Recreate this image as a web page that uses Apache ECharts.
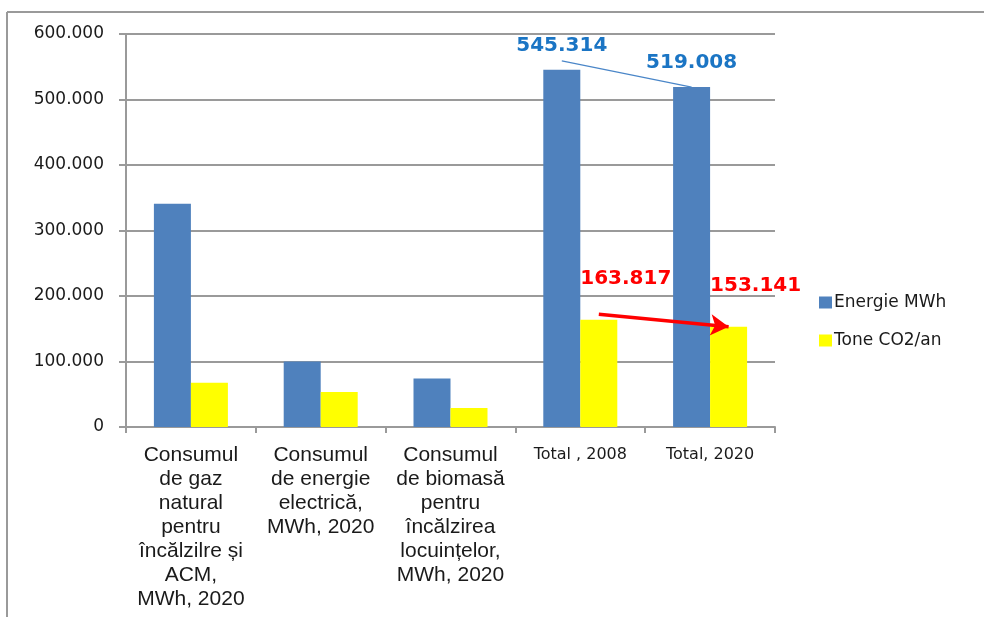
<!DOCTYPE html>
<html>
<head>
<meta charset="utf-8">
<script src="https://cdn.jsdelivr.net/npm/echarts@6/dist/echarts.min.js"></script>
<style>
  html, body { margin: 0; padding: 0; background: #fff; }
  #chart { width: 984px; height: 617px; }
</style>
</head>
<body>
<div id="chart"></div>
<script>
// date
const categories = [
  'Consumul\nde gaz\nnatural\npentru\nîncălzilre și\nACM,\nMWh, 2020',
  'Consumul\nde energie\nelectrică,\nMWh, 2020',
  'Consumul\nde biomasă\npentru\nîncălzirea\nlocuințelor,\nMWh, 2020',
  'Total , 2008',
  'Total, 2020'
];
const energie = [341000, 100000, 74000, 545314, 519008];
const co2 = [67500, 53500, 29000, 163817, 153141];
const yTicks = [0, 100000, 200000, 300000, 400000, 500000, 600000];

const fmt = v => (v === 0 ? '0' : String(v).replace(/\B(?=(\d{3})+(?!\d))/g, '.'));

const chart = echarts.init(document.getElementById('chart'));

// etichete doar pe total
const energieData = energie.map((v, i) => i >= 3 ? {
  value: v,
  label: {
    show: true, position: 'top', distance: 14,
    color: '#1B75C4', fontSize: 20, fontWeight: 'bold',
    fontFamily: 'DejaVu Sans', formatter: p => fmt(p.value)
  }
} : v);
const co2Data = co2.map((v, i) => i >= 3 ? {
  value: v,
  label: {
    show: true, position: 'top', offset: [27, -26],
    color: '#FF0000', fontSize: 20, fontWeight: 'bold',
    fontFamily: 'DejaVu Sans', formatter: p => fmt(p.value)
  }
} : v);

const option = {
  animation: false,
  backgroundColor: '#fff',
  graphic: [
    { type: 'line', shape: { x1: 7, y1: 12, x2: 984, y2: 12 }, style: { stroke: '#9a9a9a', lineWidth: 2 } },
    { type: 'line', shape: { x1: 7, y1: 12, x2: 7, y2: 617 }, style: { stroke: '#9a9a9a', lineWidth: 2 } }
  ],
  legend: {
    orient: 'vertical',
    left: 814,
    top: 289,
    itemWidth: 13,
    itemHeight: 12,
    itemGap: 21,
    icon: 'rect',
    textStyle: { fontFamily: 'DejaVu Sans', fontSize: 17, color: '#1a1a1a', padding: [0, 0, 0, -3] },
    data: ['Energie MWh', 'Tone CO2/an']
  },
  grid: { left: 126, right: 209, top: 34, bottom: 190, containLabel: false },
  xAxis: {
    type: 'category',
    data: categories,
    axisLine: { lineStyle: { color: '#9a9a9a', width: 2 } },
    axisTick: { show: true, length: 6, lineStyle: { color: '#9a9a9a', width: 2 } },
    axisLabel: {
      interval: 0,
      margin: 16,
      fontFamily: 'Liberation Sans',
      fontSize: 21,
      lineHeight: 24,
      color: '#1a1a1a',
      align: 'center',
      verticalAlign: 'top',
      formatter: v => v.startsWith('Total') ? '{t|' + v + '}' : v,
      rich: {
        t: { fontFamily: 'DejaVu Sans', fontSize: 16, color: '#1a1a1a', lineHeight: 24 }
      }
    }
  },
  yAxis: {
    type: 'value',
    min: yTicks[0],
    max: yTicks[yTicks.length - 1],
    interval: yTicks[1] - yTicks[0],
    axisLine: { show: true, lineStyle: { color: '#9a9a9a', width: 2 } },
    axisTick: { show: true, length: 7, lineStyle: { color: '#9a9a9a', width: 2 } },
    splitLine: { lineStyle: { color: '#9a9a9a', width: 2 } },
    axisLabel: {
      margin: 22,
      fontFamily: 'DejaVu Sans',
      fontSize: 17,
      color: '#1a1a1a',
      formatter: fmt
    }
  },
  series: [
    {
      name: 'Energie MWh',
      type: 'bar',
      barWidth: 37,
      barGap: '0%',
      itemStyle: { color: '#4F81BD' },
      data: energieData,
      markLine: {
        silent: true,
        symbol: ['none', 'none'],
        label: { show: false },
        lineStyle: { color: '#4A86C8', width: 1.2, type: 'solid' },
        data: [[
          { coord: [3, 559000] },
          { coord: [4, 519008] }
        ]]
      }
    },
    {
      name: 'Tone CO2/an',
      type: 'bar',
      barWidth: 37,
      itemStyle: { color: '#FFFF00' },
      data: co2Data,
      markLine: {
        silent: true,
        symbol: ['none', 'arrow'],
        symbolSize: [16, 18],
        label: { show: false },
        lineStyle: { color: '#FF0000', width: 3.5, type: 'solid' },
        data: [[
          { coord: [3, 172000] },
          { coord: [4, 153141] }
        ]]
      }
    }
  ]
};

chart.setOption(option);
</script>
</body>
</html>
